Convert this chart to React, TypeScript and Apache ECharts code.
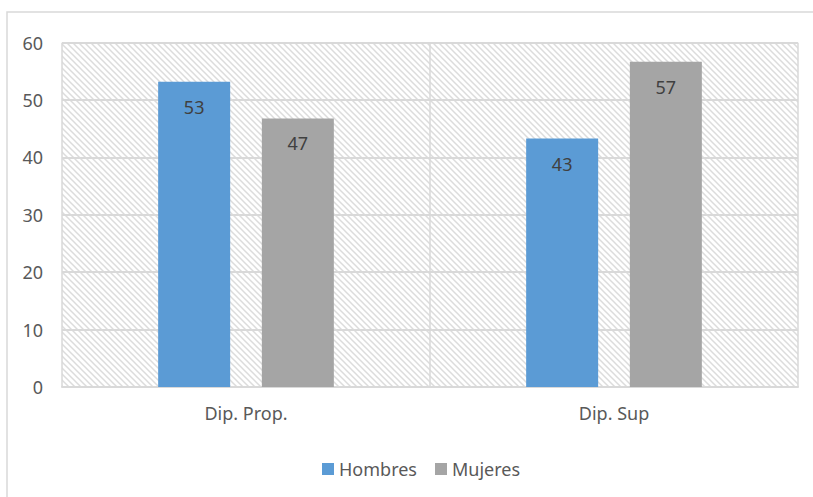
import React, { useEffect, useRef } from "react";
import * as echarts from "echarts";

const categories = ["Dip. Prop.", "Dip. Sup"];
const hombres = [53.2, 43.3];
const mujeres = [46.8, 56.7];
const seriesNames = ["Hombres", "Mujeres"];
const yTicks = { min: 0, max: 60, interval: 10 };

function makeHatch(): HTMLCanvasElement {
  const s = 6;
  const c = document.createElement("canvas");
  c.width = s;
  c.height = s;
  const ctx = c.getContext("2d")!;
  ctx.fillStyle = "#ffffff";
  ctx.fillRect(0, 0, s, s);
  ctx.strokeStyle = "#dcdcdc";
  ctx.lineWidth = 1.5;
  for (const k of [-s, 0, s]) {
    ctx.beginPath();
    ctx.moveTo(k - 1, -1);
    ctx.lineTo(k + s + 1, s + 1);
    ctx.stroke();
  }
  return c;
}

export default function App() {
  const ref = useRef<HTMLDivElement>(null);
  useEffect(() => {
    if (!ref.current) return;
    const chart = echarts.init(ref.current, undefined, { renderer: "svg" });
    const hatch = makeHatch();
    const font = "'Noto Sans', sans-serif";
    const grey = "#d9d9d9";
    const fs = 18;
    chart.setOption({
      animation: false,
      backgroundColor: "#ffffff",
      textStyle: { fontFamily: font },
      graphic: [
        {
          type: "rect",
          shape: { x: 7, y: 12, width: 900, height: 600 },
          style: { fill: "none", stroke: grey, lineWidth: 1.5 },
          silent: true,
          z: -10,
        },
      ],
      grid: {
        left: 62,
        right: 15,
        top: 42.7,
        bottom: 110,
        show: true,
        borderWidth: 0,
        backgroundColor: {
          image: hatch,
          repeat: "repeat",
          imageWidth: 6,
          imageHeight: 6,
        } as any,
      },
      legend: {
        data: seriesNames,
        left: 317,
        top: 455,
        itemWidth: 12,
        itemHeight: 12,
        itemGap: 18,
        icon: "rect",
        textStyle: { fontSize: fs, color: "#595959", fontFamily: font },
      },
      xAxis: {
        type: "category",
        data: categories,
        axisTick: { show: false },
        axisLine: { lineStyle: { color: grey, width: 2 } },
        axisLabel: { fontSize: fs, color: "#595959", margin: 17, fontFamily: font },
        splitLine: { show: true, interval: 0, lineStyle: { color: grey, width: 1.5 } },
      },
      yAxis: {
        type: "value",
        min: yTicks.min,
        max: yTicks.max,
        interval: yTicks.interval,
        axisLine: { show: false },
        axisTick: { show: false },
        axisLabel: { fontSize: fs, color: "#595959", margin: 19, fontFamily: font },
        splitLine: { lineStyle: { color: grey, width: 2 } },
      },
      series: [
        {
          name: seriesNames[0],
          type: "bar",
          data: hombres,
          barWidth: 72,
          barGap: "44%",
          itemStyle: { color: "#5B9BD5" },
          label: {
            show: true,
            position: "insideTop",
            distance: 16,
            fontSize: fs,
            color: "#404040",
            fontFamily: font,
            formatter: (p: any) => String(Math.round(p.value)),
          },
        },
        {
          name: seriesNames[1],
          type: "bar",
          data: mujeres,
          barWidth: 72,
          barGap: "44%",
          itemStyle: { color: "#A5A5A5" },
          label: {
            show: true,
            position: "insideTop",
            distance: 16,
            fontSize: fs,
            color: "#404040",
            fontFamily: font,
            formatter: (p: any) => String(Math.round(p.value)),
          },
        },
      ],
    });
    return () => chart.dispose();
  }, []);
  return (
    <div
      ref={ref}
      style={{ position: "absolute", left: 0, top: 0, width: 813, height: 497 }}
    />
  );
}
